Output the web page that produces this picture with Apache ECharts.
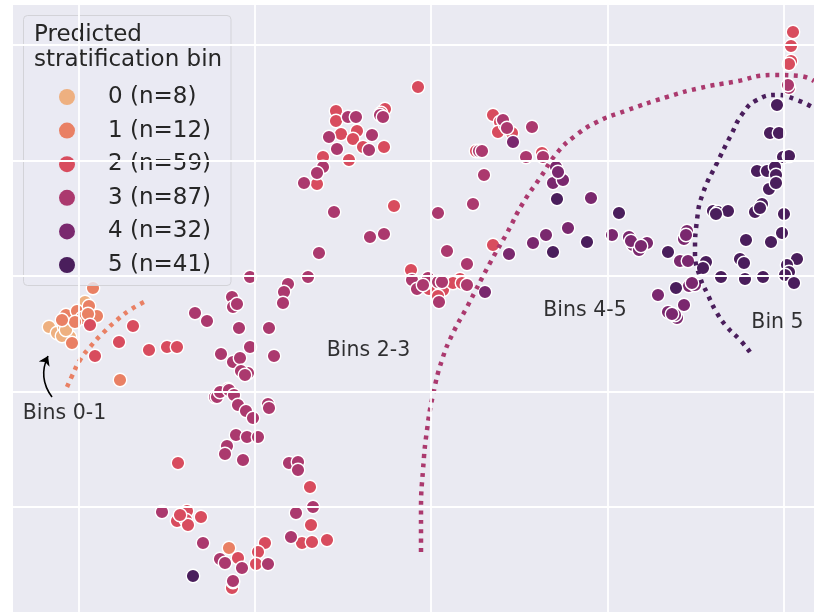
<!DOCTYPE html>
<html><head><meta charset="utf-8">
<script src="https://cdn.jsdelivr.net/npm/echarts@6/dist/echarts.min.js"></script>
<style>html,body{margin:0;padding:0;background:#fff}#c{width:814px;height:612px}</style>
</head><body><div id="c"></div>
<script>
// Embedding coordinates (arbitrary units, y grows downward)
const binLabels = ['0 (n=8)', '1 (n=12)', '2 (n=59)', '3 (n=87)', '4 (n=32)', '5 (n=41)'];
const binColors = ['#EEB080', '#E98064', '#D84C5E', '#AB396E', '#7A286E', '#4A1E5C'];

const bin0 = [[85,302],[49,327],[57,333],[64,327],[69,322],[70,337],[62,336],[66,330]];
const bin1 = [[93,288],[66,315],[77,311],[82,318],[89,306],[97,316],[72,343],[120,380],[229,548],[88,314],[75,322],[62,320]];
const bin2 = [[90,325],[133,326],[119,342],[95,356],[149,350],[167,347],[177,347],
  [418,87],[385,109],[336,111],[336,121],[341,134],[357,131],[353,139],[363,147],[384,147],[349,160],[323,157],[317,184],[394,206],[381,113],
  [411,270],[429,289],[443,290],[460,279],[453,283],[438,296],
  [493,115],[500,122],[498,132],[512,133],[476,151],[542,153],[493,245],
  [793,32],[791,46],[791,61],[789,64],
  [178,463],[310,487],[311,525],[187,511],[177,521],[186,520],[188,525],[201,517],[302,543],[312,542],[327,540],[265,543],[258,552],[238,558],[256,564],[232,588],[233,582],
  [505,125],[462,283],[426,283],[180,515]];
const bin3 = [[348,117],[356,117],[380,115],[383,117],[329,137],[372,135],[337,149],[369,150],[323,167],[317,173],[304,183],[334,212],[370,237],[384,234],[319,253],[308,277],
  [250,277],[288,284],[284,292],[283,303],[232,297],[233,307],[269,328],[274,356],[250,347],[195,313],[207,321],[239,328],[221,354],[233,362],[240,358],[248,373],[241,371],[228,389],[215,397],
  [412,280],[417,289],[428,278],[438,213],[438,282],[442,282],[439,302],[467,264],[467,285],[447,251],[423,285],
  [503,120],[507,128],[532,127],[479,151],[482,151],[526,157],[543,157],[484,175],[473,204],
  [789,88],[788,85],
  [217,397],[220,392],[229,390],[234,395],[238,405],[246,411],[253,418],[268,404],[269,408],[236,435],[247,437],[258,437],[227,446],[225,454],[243,460],[289,463],[298,462],[298,470],[162,512],[296,513],[313,507],[291,537],[203,543],[220,559],[225,563],[242,568],[268,564],[233,581],
  [237,304],[245,375]];
const bin4 = [[485,292],[509,254],[556,167],[553,183],[563,180],[591,198],[533,243],[546,235],[568,228],[612,235],[629,237],[633,245],[639,250],[647,243],[687,231],[684,239],[680,261],[688,261],[689,286],[695,285],[658,295],[684,305],[668,312],[677,318],[675,315],[513,142],
  [631,241],[641,246],[686,235],[692,283],[672,314],[558,172]];
const bin5 = [[557,199],[553,252],[587,242],[619,213],[193,576],[777,105],[770,133],[779,133],[783,157],[789,156],[757,171],[767,171],[775,167],[776,175],[769,189],[776,183],[762,204],[755,212],[784,214],[713,211],[718,212],[728,211],[746,240],[771,242],[782,233],[740,259],[744,263],[797,259],[787,265],[789,272],[785,275],[794,283],[721,277],[745,279],[763,277],[706,262],[703,268],[676,288],[668,252],[760,208],[716,214]];
const bins = [bin0, bin1, bin2, bin3, bin4, bin5];

const xGridLines = [78.7, 255, 431.2, 607.5, 783.7];
const yGridLines = [45.2, 160.6, 276, 391.3, 506.7];

const curveBins01 = [[67,387],[72,376],[80,360],[90,347],[103,333],[117,320],[130,310],[148,300]];
const curveBins23 = [[421,552],[421,510],[423,470],[427,430],[433,395],[442,360],[453,333],[467,307],[490,263],[507,233],[523,203],[540,178],[557,153],[575,136],[597,122],[625,111],[667,97],[700,88],[733,82],[773,75],[800,76],[814,81]];
const curveBin5 = [[750,352],[740,340],[727,327],[717,313],[707,293],[700,277],[695,253],[697,220],[703,193],[717,163],[730,137],[743,113],[757,100],[777,95],[797,100],[814,108]];

const annotations = [
  {name: 'Bins 0-1', value: [64.5, 414]},
  {name: 'Bins 2-3', value: [368.5, 351]},
  {name: 'Bins 4-5', value: [585, 311]},
  {name: 'Bin 5', value: [777.5, 323]}
];
const arrowPath = [[52,397],[48,356]];

const FONT = 'DejaVu Sans';
const chart = echarts.init(document.getElementById('c'), null, {renderer: 'canvas'});

const series = [];
series.push({
  type: 'scatter', data: [], silent: true, z: 1,
  markLine: {
    silent: true, symbol: ['none', 'none'], label: {show: false}, animation: false,
    lineStyle: {color: '#ffffff', width: 1.8, type: 'solid', opacity: 1},
    emphasis: {disabled: true},
    data: xGridLines.map(v => ({xAxis: v})).concat(yGridLines.map(v => ({yAxis: v})))
  }
});
bins.forEach((b, i) => {
  series.push({
    name: binLabels[i], type: 'scatter', data: b, symbol: 'circle', symbolSize: 13.5, z: 2,
    itemStyle: {color: binColors[i], borderColor: '#ffffff', borderWidth: 1.4, opacity: 1}
  });
});
[[curveBins01, binColors[1]], [curveBins23, binColors[3]], [curveBin5, binColors[5]]].forEach(([d, c]) => {
  series.push({
    type: 'line', data: d, smooth: 0.5, symbol: 'none', z: 3, silent: true,
    lineStyle: {color: c, width: 4.5, type: [4, 5.4], cap: 'butt'}
  });
});
series.push({
  type: 'scatter', data: annotations, symbolSize: 1, z: 5, silent: true,
  itemStyle: {color: 'rgba(0,0,0,0)'},
  label: {show: true, position: 'inside', formatter: p => p.name, color: '#000', fontFamily: FONT, fontSize: 20.5}
});
series.push({
  type: 'lines', coordinateSystem: 'cartesian2d', z: 5, silent: true,
  data: [{coords: arrowPath}],
  symbol: ['none', 'arrow'], symbolSize: [0, 9],
  lineStyle: {color: '#000', width: 1.6, curveness: 0.3, opacity: 1}
});

chart.setOption({
  animation: false,
  backgroundColor: '#ffffff',
  grid: {left: 13, right: 0, top: 5, bottom: 0, show: true, backgroundColor: '#EAEAF2', borderWidth: 0},
  xAxis: {type: 'value', min: 13, max: 814, show: false},
  yAxis: {type: 'value', min: 5, max: 612, inverse: true, show: false},
  graphic: [
    {type: 'rect', z: 3, shape: {x: 23.5, y: 15.5, width: 207.5, height: 270, r: 4},
     style: {fill: 'rgba(234,234,242,0.8)', stroke: '#D3D3D8', lineWidth: 1}},
    {type: 'text', z: 4, left: 34, top: 23,
     style: {text: 'Predicted\nstratification bin', font: '23px "DejaVu Sans"', fill: '#262626', lineHeight: 25}}
  ],
  legend: {
    z: 4, orient: 'vertical', left: 54, top: 80.5, itemWidth: 16, itemHeight: 16, itemGap: 10.6,
    icon: 'circle', selectedMode: false,
    itemStyle: {borderWidth: 0},
    textStyle: {fontFamily: FONT, fontSize: 23, color: '#262626', lineHeight: 16, padding: [0, 0, 0, 28]},
    data: binLabels
  },
  series: series
});
</script></body></html>
